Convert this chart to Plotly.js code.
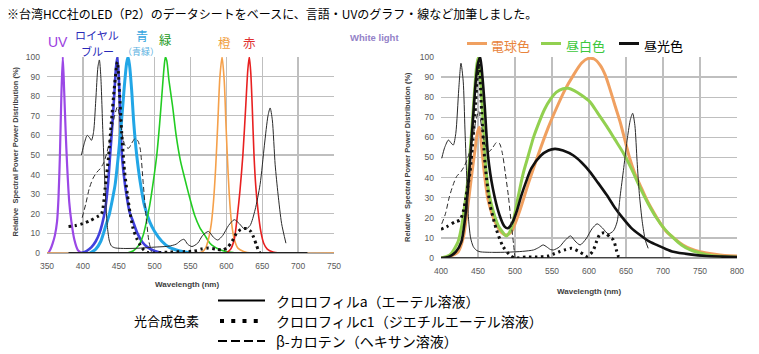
<!DOCTYPE html>
<html><head><meta charset="utf-8">
<script src="https://cdn.plot.ly/plotly-3.0.1.min.js"></script>
<style>html,body{margin:0;padding:0;background:#fff}#c{width:759px;height:354px}</style>
</head><body><div id="c"></div>
<script>
// ---------- LEFT PANEL: LED spectra ----------
const uvX=[352,355,358,361,364,366,368,370,372,374,376,378,381,384,388,393,398];
const uvY=[0,2,5,9,16,28,50,80,100,82,62,45,26,16,7,1.5,0];
const rbX=[398,405,412,418,423,427,431,435,438,441,444,446,448,450,452,454,457,461,465,470,476,483,490,500,510];
const rbY=[0,1,3,6,10,15,22,35,50,65,82,94,100,90,72,52,40,29,21,16,10,5.5,3,1,0];
const blX=[410,418,425,432,437,441,445,449.5,454,458,461,463,465,468,471,475,480,486,493,500,510,520,535,550];
const blY=[0,2,6,14,20,27,35,50,68,86,97,100,96,83,66,50,36,24,16,11,6,3,1,0];
const grX=[462,470,478,484,488,493,498,503,507,510,513,515,517,520,525,530,536,542,549,556,563,570,577,584,592,600,610];
const grY=[0,1,4,9,15,24,36,50,66,80,94,100,98,88,75,60,47,38,28,19,13,9,5,3,1.5,0.7,0.2];
const orX=[350,560,566,571,575,579,582,585,588,591,594,597,599.5,601.5,604,607,611,616,624,635,750];
const orY=[0,0,0.5,2.5,7,15,26,43,66,90,100,88,65,48,30,16,7,2.5,0.8,0,0];
const rdX=[600,606,611,615,619,623,627,630,632,634,636,638.5,641,644,648,652,657,665,675];
const rdY=[0,2,7,18,32,50,75,94,100,92,75,50,34,22,11,5,2,0.5,0];
// pigments (left)
const chlaLX=[398,402,406,409,412,415,418,421,423,425,428,431,434,437,440,445,460,480,500,520,530,537,541,546,552,560,567,575,582,588,595,603,611,618,626,633,640,647,653,658,661,664,668,672,677,683];
const chlaLY=[50,56,60,59,57.5,62,78,95,98.5,90,60,33,14,6,3.5,2.6,2.3,2.5,3,3.5,4.5,6.5,7,4.5,3.3,5,9,11,8,6.6,9,14,17,15,12,14,22,35,55,70,74,68,45,30,15,5];
const c1LX=[380,390,400,410,420,426,431,436,440,444,448,451,454,458,462,466,470,475,480,485,490,500,520,540,555,565,575,585,595,602,608,614,620,628,634,638,642,645,647];
const c1LY=[13.5,14,15,16.5,18.5,20,33,50,68,85,97.5,82,62,42,30,20,12.5,7.5,4,1.5,0.3,0,0.5,0.7,1,2,2.5,2,1.5,3,6,10,12,12.5,11,8,4,1,0];
const bcLX=[399,404,409,414,419,424,429,434,439,443,448,452,456,460,464,468,473,477,480,484,488,492,496];
const bcLY=[18,25,33,38,41,43,46,52,60,68,74.5,68,58,54,53.5,56,58.5,57,53,36,19,6,0];
const baseLX=[380,713], baseLY=[0,0];

// ---------- RIGHT PANEL: white LEDs ----------
const bulbX=[400,412,423,430,436,441,446,449,452,455,458,463,468,473,481,488,495,506,518,531,545,556,568,579,590,599,607,615,622,628,635,642,649,655,662,669,678,687,696,705,716,727,738,750,763,777,790,800];
const bulbY=[0,0.8,3,10,25,40,54,62,65,55,44,30,23,18,13,11.4,13,23,37,51,65,74.5,84,91,97,99.3,99,96,91,84.4,76,67.8,58,49.6,42,36.3,29,23,17.5,13,9.5,6.5,4.5,3.1,2.2,1.5,1.1,1];
const nwX=[400,412,423,428,432,436,439,442,445.5,448,450,453,457,461,465,470,477,482,488,493,498,504,511,518,525,532,540,548,556,565,572,580,590,601,612,624,635,646,658,669,680,691,702,714,725,737,750,765,780,800];
const nwY=[0,1.5,8,16,26,38,51,66,84,95,99.5,90,68,43,32,24,16.4,13.5,11,13,19,30,42,51,60,67,74,79,82.5,84.2,84.4,83.3,81,77.8,72,65.5,59,52.5,44,35,27,20,14.5,10,6.5,4,2.5,1.3,0.8,0.4];
const dayX=[400,410,420,427.5,432,436.5,440,443,447,450,453,456,459,463.5,470,479,486,490.5,497,503,508.5,515,522,535,545,554,565,579,590,601,612,624,635,646,657,669,680,691.5,703,714,736.5,759,780,800];
const dayY=[0,0.5,3,8,18,34.7,52,68,88,97,100,90,76,51,34.7,21.4,15.6,14.8,18,24,31,38,44.6,51,53.5,54.3,53.5,51,47.5,43,37.5,31.3,25,19.7,15,11.4,8.5,6.5,4.6,3.1,1.8,1,0.7,0.5];
// pigments (right)
const chlaRX=[401,405,410,413,416.6,420,424,427,430,432.4,435,437,440,443.7,448,452.7,470,490,510,525,532,538,543,548,552,560,567,575,581,588,596,604,611,618,626,633,638,642,647,652,656,659,662,665,668,672,676,680];
const chlaRY=[49.6,55,58.7,57.5,56.2,62,84,96.9,88,63.7,38,20.5,10,5.6,3.8,3.1,2.8,2.9,3.3,4,5.2,6.5,5.5,4.2,4,5.5,8.5,11,8.5,6.5,9.5,14.5,17,15,12,13.5,18,30.5,45,60,69,72,66,48,32,18,9,4.8];
const c1RX=[400,408,419,425.7,430,433.8,439,443,446,449,451.4,453,455,459.5,466,475,484,493,500,515,530,545,552,559,567,576.6,585,592,597,602,606,610,615,620,624,629,633,637,640,642];
const c1RY=[14.3,15.6,18,18.9,23,30.5,42,58,72,90,96.8,88,72,47,27,14,5.6,1.5,0,0.5,0.5,1,2,3,4,4.8,3.5,2,0.8,2,4,8,12,12.5,12,10,9,4,0.6,0];
const bcRX=[401,406,411,416,421,427,432,438,443,447,451,455,460,465,470,475,479,483,487,491,495,498,500];
const bcRY=[17,22,30,36,40.5,43,46,52,60,68,73,65,56,53,55,57.5,57,52,42,31,17,7,0];
const baseRX=[400,710], baseRY=[0,0];

// labels
const titleText='※台湾HCC社のLED（P2）のデータシートをベースに、言語・UVのグラフ・線など加筆しました。';
const whiteNames=['電球色','昼白色','昼光色'];
const pigmentNames=['クロロフィルa（エーテル溶液）','クロロフィルc1（ジエチルエーテル溶液）','β-カロテン（ヘキサン溶液）'];
const pigmentGroup='光合成色素';
const yTitle='Relative  Spectral Power Power Distribution (%)';
const xTitle='Wavelength (nm)';

// ---------- layout helpers ----------
const W=759,H=354;
const px=x=>x/W, py=y=>1-y/H;
const JP='"Noto Sans CJK JP", sans-serif';
const LAT='"Liberation Sans", Arial, sans-serif';

function tr(x,y,xa,ya,color,width,dash,shape){
  return {x:x,y:y,xaxis:xa,yaxis:ya,type:'scatter',mode:'lines',hoverinfo:'skip',showlegend:false,
    line:{color:color,width:width,dash:dash||'solid',shape:shape||'spline',smoothing:0.7}};
}
const thinBlack='#2a2a2a';
const data=[
  tr(uvX,uvY,'x','y','#9b48e6',2.2),
  tr(rbX,rbY,'x','y','#4040dd',2.6),
  tr(blX,blY,'x','y','#22a6e6',3),
  tr(grX,grY,'x','y','#22cc22',1.6),
  tr(orX,orY,'x','y','#f5a04a',1.6),
  tr(rdX,rdY,'x','y','#e82020',1.6),
  tr(baseLX,baseLY,'x','y','#222',2,'solid','linear'),
  tr(chlaLX,chlaLY,'x','y',thinBlack,1),
  tr(bcLX,bcLY,'x','y',thinBlack,1,'5px,3px'),
  tr(c1LX,c1LY,'x','y','#111',3,'2.5px,3.5px'),

  tr(bulbX,bulbY,'x2','y2','#f0a060',3),
  tr(nwX,nwY,'x2','y2','#92d050',3),
  tr(dayX,dayY,'x2','y2','#111',2.6),
  tr(baseRX,baseRY,'x2','y2','#222',1.5,'solid','linear'),
  tr(chlaRX,chlaRY,'x2','y2',thinBlack,1),
  tr(bcRX,bcRY,'x2','y2',thinBlack,1,'5px,3px'),
  tr(c1RX,c1RY,'x2','y2','#111',3,'2.5px,3.5px')
];

const axBase={showgrid:true,gridcolor:'#bfbfbf',gridwidth:1.3,zeroline:true,zerolinecolor:'#a8a8a8',zerolinewidth:1.3,
  showline:false,ticks:'',tickfont:{size:8.5,color:'#595959',family:LAT},fixedrange:true};
const layout={
  width:W,height:H,margin:{l:0,r:0,t:0,b:0},paper_bgcolor:'#fff',plot_bgcolor:'#fff',showlegend:false,
  xaxis:Object.assign({},axBase,{domain:[px(47),px(334)],range:[350,750],tick0:350,dtick:50,anchor:'y',ticklabelstandoff:6}),
  yaxis:Object.assign({},axBase,{domain:[py(253),py(57)],range:[0,100],tick0:0,dtick:10,anchor:'x',ticklabelstandoff:6}),
  xaxis2:Object.assign({},axBase,{domain:[px(441),px(737)],range:[400,800],tick0:400,dtick:50,anchor:'y2',ticklabelstandoff:6}),
  yaxis2:Object.assign({},axBase,{domain:[py(258),py(57)],range:[0,100],tick0:0,dtick:10,anchor:'x2',ticklabelstandoff:6}),
  shapes:[],annotations:[]
};
function ann(text,x,y,o){
  o=o||{};
  layout.annotations.push({text:text,xref:'paper',yref:'paper',x:px(x),y:py(y),showarrow:false,
    xanchor:o.xa||'left',yanchor:'middle',textangle:o.ang||0,align:'center',borderpad:0,
    font:{size:o.size||12,color:o.color||'#000',family:o.family||JP,weight:o.weight||'normal'}});
}
function seg(x0,x1,y,color,width,dash){
  layout.shapes.push({type:'line',xref:'paper',yref:'paper',x0:px(x0),x1:px(x1),y0:py(y),y1:py(y),
    line:{color:color,width:width,dash:dash||'solid'}});
}
// title
ann(titleText,6,13,{size:12});
// left labels
ann('UV',47,42,{size:14,color:'#9b3ee0',family:LAT});
ann('ロイヤル',96.5,35,{xa:'center',size:11,color:'#2828b8'});
ann('ブルー',97,50.5,{xa:'center',size:11,color:'#2828b8'});
ann('青',142,35,{xa:'center',size:12,color:'#36a6e0'});
ann('（青緑）',141,51.5,{xa:'center',size:9,color:'#5ab0e0'});
ann('緑',165,40,{xa:'center',size:12.5,color:'#229922'});
ann('橙',224,42,{xa:'center',size:12.5,color:'#f0a040'});
ann('赤',249,42,{xa:'center',size:12.5,color:'#e03030'});
ann('White light',349,37.5,{size:9.5,color:'#9482c8',family:LAT,weight:'bold'});
// right legend
seg(467,487,43.5,'#f0a060',3); ann(whiteNames[0],490,45,{size:13,color:'#e8843c'});
seg(541,561,43.5,'#92d050',3); ann(whiteNames[1],565,45,{size:13,color:'#3cc83c'});
seg(619,639,43.5,'#111',3); ann(whiteNames[2],643,45,{size:13,color:'#000'});
// axis titles
ann(yTitle,14.5,152,{xa:'center',ang:-90,size:7.5,color:'#404040',family:LAT,weight:'bold'});
ann(yTitle,407,157,{xa:'center',ang:-90,size:7.5,color:'#404040',family:LAT,weight:'bold'});
ann(xTitle,187,284,{xa:'center',size:8,color:'#404040',family:LAT,weight:'bold'});
ann(xTitle,589,291,{xa:'center',size:8,color:'#404040',family:LAT,weight:'bold'});
// bottom pigment legend
ann(pigmentGroup,133,320.5,{size:13});
seg(218,265,300.5,'#000',2);
seg(220,265,321,'#000',4,'4px,7.25px');
seg(218,265,341,'#000',2,'9px,4px');
ann(pigmentNames[0],275,300.5,{size:14});
ann(pigmentNames[1],275,320.5,{size:14});
ann(pigmentNames[2],275,341,{size:14});

Plotly.newPlot('c',data,layout,{staticPlot:true,displayModeBar:false});
</script></body></html>
